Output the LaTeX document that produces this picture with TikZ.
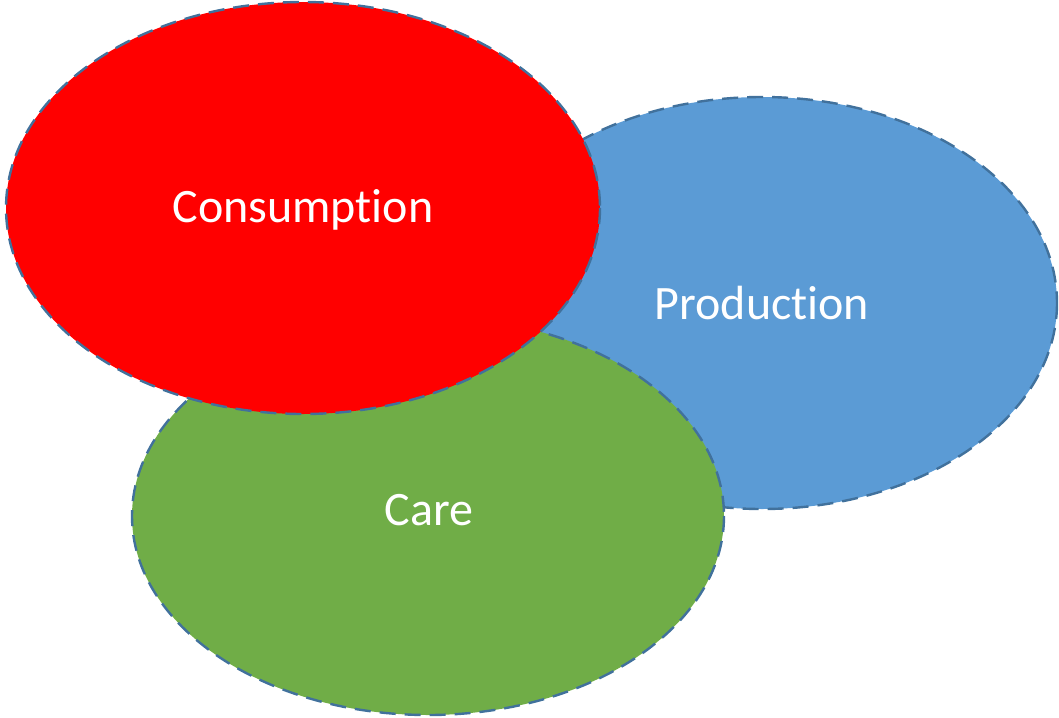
\documentclass[tikz,border=0pt]{standalone}
\usepackage{fontspec}
\setmainfont[Ligatures=NoCommon]{Carlito}
\definecolor{cred}{HTML}{FF0000}
\definecolor{cblue}{HTML}{5B9BD5}
\definecolor{cgreen}{HTML}{70AD47}
\definecolor{cline}{HTML}{41719C}
\begin{document}
\begin{tikzpicture}[x=1pt,y=-1pt,
  blob/.style={draw=cline, line width=2.4pt, dash pattern=on 16pt off 9pt},
  lbl/.style={text=white, font=\fontsize{48}{52}\selectfont}]
\useasboundingbox (0,0) rectangle (1059,717);
\fill[cblue, blob] (762,303) ellipse [x radius=295, y radius=206];
\fill[cgreen, blob] (428,516) ellipse [x radius=296, y radius=199];
\fill[cred, blob] (303,208) ellipse [x radius=297, y radius=206];
\node[lbl] (cons) at (303,210) {Consumption};
\node[lbl] (prod) at (762,303) {Production};
\node[lbl] (care) at (429,510) {Care};
\end{tikzpicture}
\end{document}
